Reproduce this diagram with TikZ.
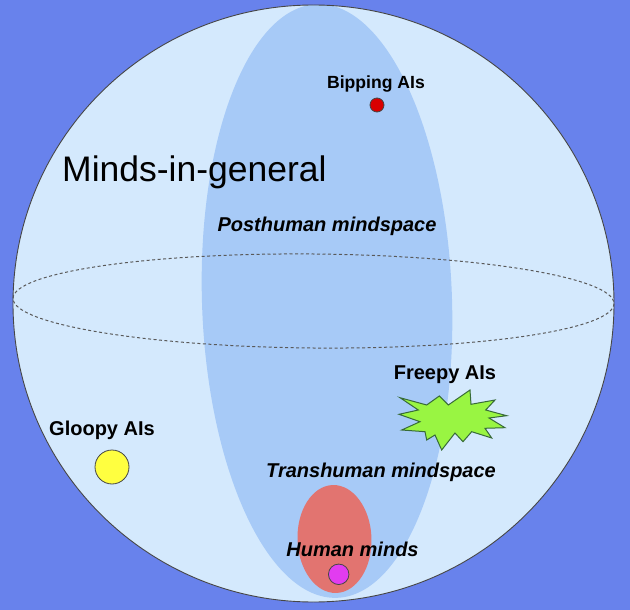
\documentclass[tikz,border=0pt]{standalone}
\usepackage{fontspec}
\setmainfont{Liberation Sans}
\definecolor{bgblue}{RGB}{104,130,236}
\definecolor{sphere}{RGB}{212,233,253}
\definecolor{posth}{RGB}{167,202,247}
\definecolor{transh}{RGB}{226,116,112}
\definecolor{humdot}{RGB}{226,60,240}
\definecolor{gloopy}{RGB}{255,255,64}
\definecolor{freepy}{RGB}{153,245,66}
\definecolor{edge}{RGB}{70,70,70}
\tikzset{
  lab/.style={font=\fontsize{20}{24}\selectfont\bfseries, anchor=base, inner sep=0pt},
  labit/.style={font=\fontsize{20}{24}\selectfont\bfseries\itshape, anchor=base, inner sep=0pt},
  dot/.style={circle, draw=edge, line width=0.8pt, inner sep=0pt},
}
\begin{document}
\begin{tikzpicture}[x=1pt,y=-1pt]
\useasboundingbox (0,0) rectangle (630,610);
\fill[bgblue] (0,0) rectangle (630,610);
% sphere
\fill[sphere] (313.5,303.5) ellipse [x radius=300.5, y radius=298.5];
\begin{scope}
  \clip (313.5,303.5) ellipse [x radius=300.5, y radius=298.5];
  \begin{scope}[shift={(327,301)}, rotate=1.9]
    \fill[posth] (0,0) ellipse [x radius=125, y radius=297];
  \end{scope}
\end{scope}
\draw[edge, line width=0.9pt] (313.5,303.5) ellipse [x radius=300.5, y radius=298.5];
% equator
\begin{scope}[shift={(313.5,301)}, rotate=-0.5]
  \draw[gray!70!black, line width=1pt, dash pattern=on 3pt off 2.5pt] (0,0) ellipse [x radius=300.5, y radius=47];
\end{scope}
% transhuman
\begin{scope}[shift={(334.5,539)}, rotate=2]
  \fill[transh] (0,0) ellipse [x radius=37, y radius=54];
\end{scope}
% dots
\node[dot, fill=red!85!black, minimum size=14pt] (bipdot) at (377,105) {};
\node[dot, fill=gloopy, minimum size=34pt] (gloopydot) at (112,467) {};
\node[dot, fill=humdot, minimum size=20.5pt] (humandot) at (338.7,574.3) {};
% star
\fill[freepy, draw=edge!80!green, line width=1pt, line join=miter]
  (400,397.7) -- (426.7,405) -- (439.3,396) -- (448.3,405) -- (470,390) -- (471,404.3)
  -- (495,400) -- (485.7,410) -- (506.7,415.7) -- (489,418) -- (505,427.7) -- (485,428.3)
  -- (491.7,438) -- (471.7,431.7) -- (463,441.7) -- (455,433) -- (441.7,450) -- (435,435)
  -- (426.7,440) -- (425,431.7) -- (401.7,430) -- (420,421.7) -- (399,414.3) -- (418.3,410) -- cycle;
% labels
\node[font=\fontsize{35.5}{40}\selectfont, anchor=base west, inner sep=0pt] (general) at (62,182) {Minds-in-general};
\node[lab, font=\fontsize{17.6}{21}\selectfont\bfseries] (bipping) at (376,89) {Bipping AIs};
\node[labit] (posthuman) at (327,231) {Posthuman mindspace};
\node[lab] (freepylab) at (445,379) {Freepy AIs};
\node[lab] (gloopylab) at (102,435) {Gloopy AIs};
\node[labit] (transhuman) at (381,477) {Transhuman mindspace};
\node[labit] (human) at (352.5,556) {Human minds};
\end{tikzpicture}
\end{document}
